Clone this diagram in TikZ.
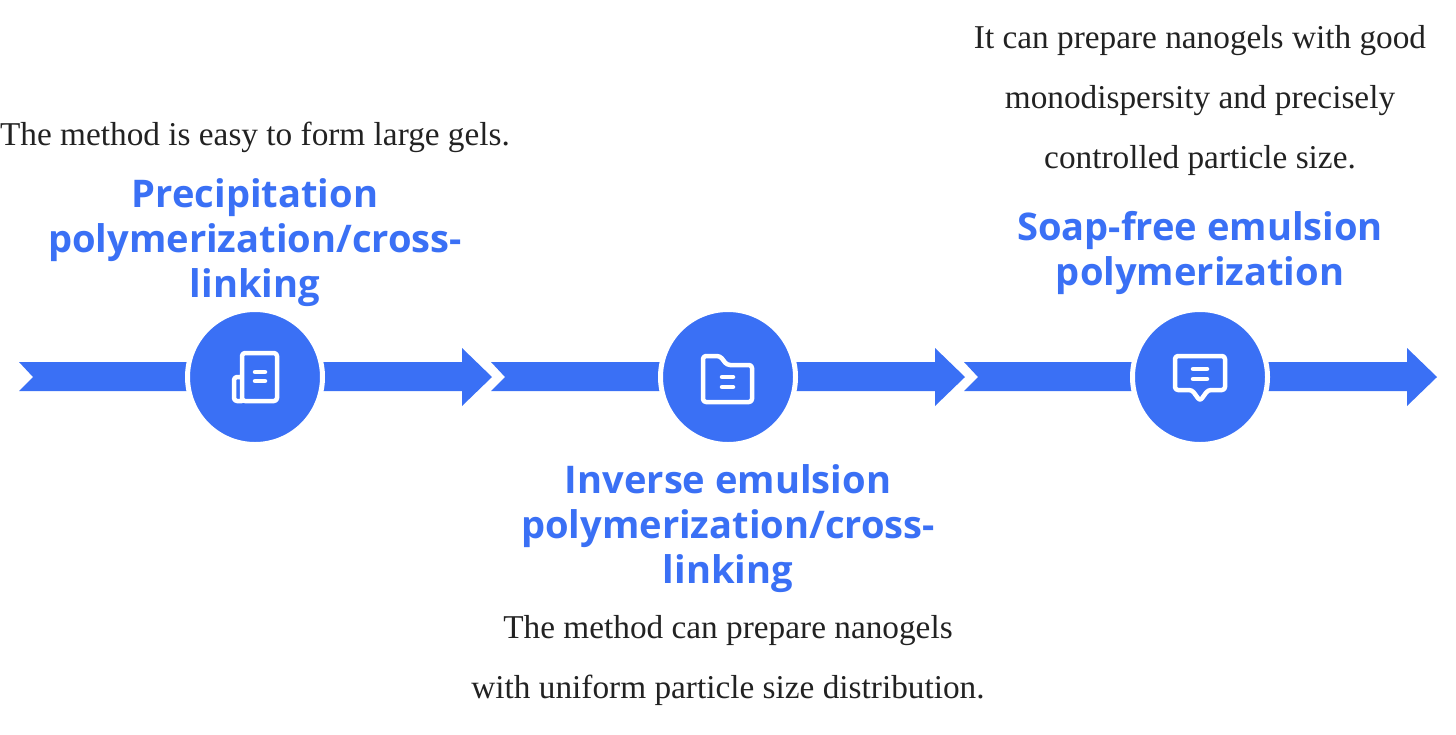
\documentclass[tikz,border=0pt]{standalone}
\usepackage{fontspec}
\setmainfont{Liberation Serif}
\newfontfamily\titlefont{Open Sans}
\definecolor{stepblue}{HTML}{3A70F5}
\definecolor{notetext}{HTML}{222222}
\tikzset{
  stepdot/.style={circle,draw=white,line width=5pt,fill=stepblue,minimum size=135pt,inner sep=0pt,outer sep=0pt},
  steptitle/.style={text=stepblue,align=center,inner sep=0pt,font=\titlefont\bfseries\fontsize{38.1}{45}\selectfont},
  stepnote/.style={text=notetext,align=center,inner sep=0pt,font=\fontsize{33.3}{60}\selectfont},
  steparrow/.style={fill=stepblue,draw=none},
  stepicon/.style={draw=white,line width=4.5pt,rounded corners=3pt,line cap=round,line join=round}
}
\begin{document}
\begin{tikzpicture}[x=1pt,y=-1pt]
  \useasboundingbox (0,0) rectangle (1456,734);

  \fill[steparrow] (19,362) -- (462,362) -- (462,348) -- (492,377) -- (462,406)
  -- (462,391) -- (19,391) -- (33,377) -- cycle;
  \fill[steparrow] (491,362) -- (935,362) -- (935,348) -- (965,377) -- (935,406)
  -- (935,391) -- (491,391) -- (505,377) -- cycle;
  \fill[steparrow] (964,362) -- (1407,362) -- (1407,348) -- (1437,377) -- (1407,406)
  -- (1407,391) -- (964,391) -- (978,377) -- cycle;

  \node[stepdot] (dota) at (255,377) {};
  \node[stepdot] (dotb) at (728,377) {};
  \node[stepdot] (dotc) at (1200,377) {};

  % paper
  \draw[stepicon,shift={(dota.center)}]
  (-13,24) -- (-13,-24) -- (22,-24) -- (22,24) -- cycle
  (-13,0) -- (-21,0) -- (-21,24) -- (-13,24);
  \draw[stepicon,shift={(dota.center)}]
  (0,-5) -- (10,-5)
  (0,4) -- (10,4);

  % folder
  \draw[stepicon,shift={(dotb.center)}]
  (-25,-21) -- (-8,-21) -- (-1,-12) -- (24,-12) -- (24,25) -- (-25,25) -- cycle;
  \draw[stepicon,shift={(dotb.center)}]
  (-6,0) -- (5,0)
  (-6,10) -- (5,10);

  % speech bubble
  \draw[stepicon,shift={(dotc.center)}]
  (-25,-21) -- (25,-21) -- (25,13) -- (8,13) -- (0,24) -- (-8,13) -- (-25,13) -- cycle;
  \draw[stepicon,shift={(dotc.center)}]
  (-7,-8) -- (7,-8)
  (-7,2) -- (7,2);

  \node[steptitle] (titlea) at (255,243) {Precipitation\\polymerization/cross-\\linking};
  \node[steptitle] (titleb) at (728,529) {Inverse emulsion\\polymerization/cross-\\linking};
  \node[steptitle] (titlec) at (1200,253) {Soap-free emulsion\\polymerization};

  \node[stepnote] (notea) at (255,137) {The method is easy to form large gels.};
  \node[stepnote] (noteb) at (728,660) {The method can prepare nanogels\\with uniform particle size distribution.};
  \node[stepnote] (notec) at (1200,100) {It can prepare nanogels with good\\monodispersity and precisely\\controlled particle size.};
\end{tikzpicture}
\end{document}
